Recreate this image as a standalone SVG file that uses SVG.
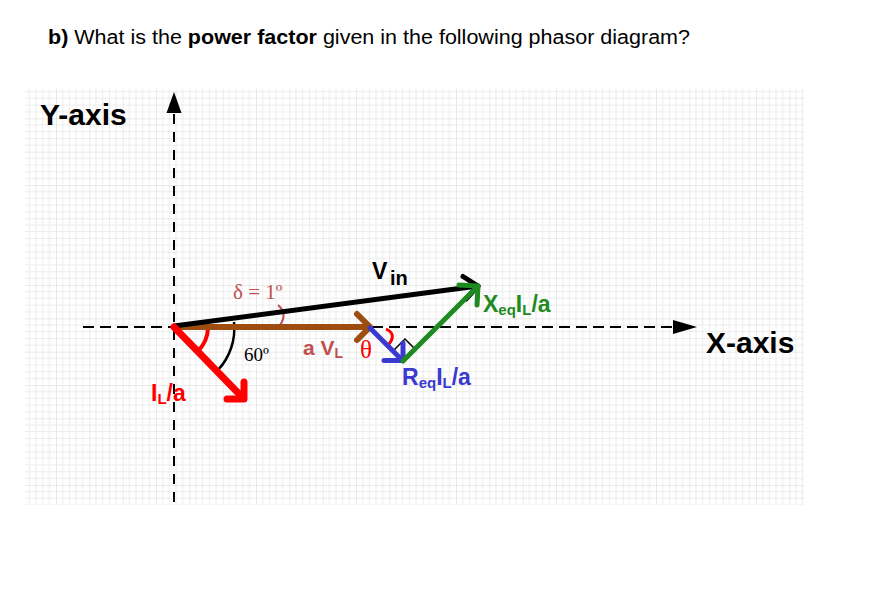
<svg xmlns="http://www.w3.org/2000/svg" width="883" height="606" viewBox="0 0 883 606">
  <defs>
    <pattern id="grid" patternUnits="userSpaceOnUse" x="22.7" y="85" width="33.333" height="33.333">
      <path d="M0,0 V33.333 M6.667,0 V33.333 M13.333,0 V33.333 M20,0 V33.333 M26.667,0 V33.333 M0,0 H33.333 M0,6.667 H33.333 M0,13.333 H33.333 M0,20 H33.333 M0,26.667 H33.333" stroke="#ececec" stroke-width="1" fill="none"/>
      <path d="M0,0 V33.333 M0,0 H33.333" stroke="#dedede" stroke-width="1" fill="none"/>
    </pattern>
    <style>
      .lbl { font-family: "Liberation Sans", Arial, sans-serif; font-weight: bold; }
      .ser { font-family: "Liberation Serif", "Times New Roman", serif; }
      .vec { fill: none; stroke-linecap: round; stroke-linejoin: round; }
      .axis { fill: none; stroke: #000; stroke-width: 2; }
    </style>
  </defs>

  <rect width="883" height="606" fill="#ffffff"/>

  <!-- title -->
  <text x="48" y="44" font-family="'Liberation Sans', Arial, sans-serif" font-size="20" fill="#000" textLength="642" lengthAdjust="spacingAndGlyphs"><tspan font-weight="bold">b)</tspan>  What is the <tspan font-weight="bold">power factor</tspan> given in the following phasor diagram?</text>

  <!-- grid -->
  <rect x="25" y="89" width="779" height="416" fill="url(#grid)"/>

  <!-- axes -->
  <g id="axes">
    <line class="axis" x1="174" y1="114" x2="174" y2="505" stroke-dasharray="10 8"/>
    <polygon points="174,92 166.5,113 181.5,113" fill="#000"/>
    <line class="axis" x1="83" y1="327" x2="674" y2="327" stroke-dasharray="11 6"/>
    <polygon points="697,327 673,320 673,334" fill="#000"/>
    <text class="lbl" x="40" y="125" font-size="30" fill="#000">Y-axis</text>
    <text class="lbl" x="706" y="353" font-size="30" fill="#000">X-axis</text>
  </g>

  <!-- angle markings -->
  <g id="angles">
    <path d="M234,322 A61,61 0 0 1 218,370" fill="none" stroke="#000" stroke-width="2.5"/>
    <path d="M208,328 A34,34 0 0 1 198,351" fill="none" stroke="#ff0000" stroke-width="4"/>
    <path d="M278,305 Q288,314 280,325" fill="none" stroke="#c0504d" stroke-width="2"/>
    <path d="M386,329 Q397,334 389,344" fill="none" stroke="#ff0000" stroke-width="3"/>
    <path d="M394,350 L405,339 L415,349" fill="none" stroke="#000" stroke-width="1.5"/>
  </g>

  <!-- phasors -->
  <g id="connectors">
    <g id="aVL">
      <line class="vec" x1="174" y1="327" x2="369" y2="327" stroke="#9e4d10" stroke-width="6"/>
      <polyline class="vec" points="357,314 370,327 357,340" stroke="#9e4d10" stroke-width="6"/>
    </g>
    <g id="Vin">
      <line class="vec" x1="174" y1="326" x2="478" y2="286" stroke="#000" stroke-width="5"/>
      <polyline class="vec" points="463,276.5 478,286 466,299" stroke="#000" stroke-width="5"/>
    </g>
    <g id="IL">
      <line class="vec" x1="174" y1="327" x2="243" y2="398" stroke="#ff0000" stroke-width="7"/>
      <polyline class="vec" points="227,399 244,399 244,382" stroke="#ff0000" stroke-width="7"/>
    </g>
    <g id="ReqIL">
      <line class="vec" x1="370" y1="328" x2="402" y2="360" stroke="#3a3ad0" stroke-width="5"/>
      <polyline class="vec" points="384,360.5 403,360.5 403,343" stroke="#3a3ad0" stroke-width="5"/>
    </g>
    <g id="XeqIL">
      <line class="vec" x1="403" y1="361" x2="477" y2="287" stroke="#1f8a1f" stroke-width="5"/>
      <polyline class="vec" points="459,285 478,286 477,305" stroke="#1f8a1f" stroke-width="5"/>
    </g>
  </g>

  <!-- labels -->
  <g id="label-Vin">
    <text class="lbl" x="372" y="279" font-size="23" fill="#000">V</text>
    <text class="lbl" x="390" y="285" font-size="20" fill="#000">in</text>
  </g>
  <g id="label-XeqIL">
    <text class="lbl" x="483" y="312" font-size="23" fill="#1f8a1f">X<tspan font-size="15" dy="3">eq</tspan><tspan dy="-3">I</tspan><tspan font-size="15" dy="3">L</tspan><tspan dy="-3">/a</tspan></text>
  </g>
  <g id="label-ReqIL">
    <text class="lbl" x="402" y="385" font-size="23" fill="#3a3ad0">R<tspan font-size="15" dy="3">eq</tspan><tspan dy="-3">I</tspan><tspan font-size="15" dy="3">L</tspan><tspan dy="-3">/a</tspan></text>
  </g>
  <g id="label-aVL">
    <text class="lbl" x="303" y="355" font-size="21" fill="#c0504d">a V<tspan font-size="14" dy="3">L</tspan></text>
  </g>
  <g id="label-IL">
    <text class="lbl" x="151" y="401" font-size="23" fill="#ff0000">I<tspan font-size="15" dy="3">L</tspan><tspan dy="-3">/a</tspan></text>
  </g>
  <g id="label-theta">
    <text class="ser" x="360" y="358" font-size="25" fill="#ff0000">θ</text>
  </g>
  <g id="label-delta">
    <text class="ser" x="233" y="299" font-size="21" fill="#c0504d">δ = 1º</text>
  </g>
  <g id="label-60">
    <text class="ser" x="244" y="361" font-size="19" fill="#000">60º</text>
  </g>
</svg>
